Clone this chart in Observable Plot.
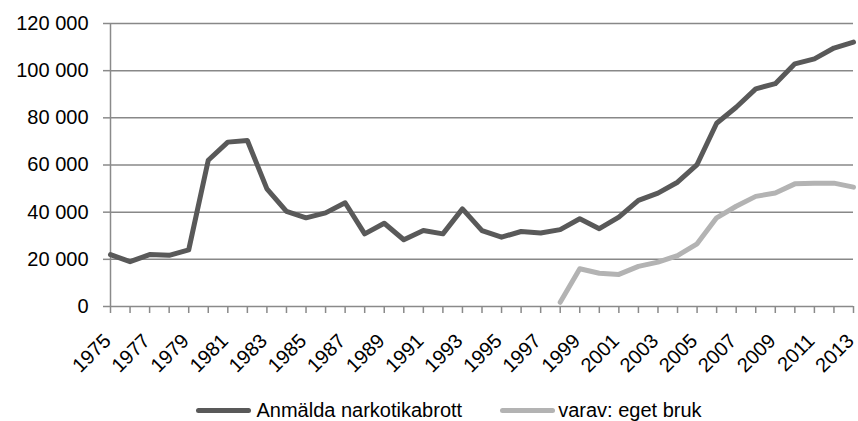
<!DOCTYPE html>
<html><head><meta charset="utf-8">
<script src="https://cdn.jsdelivr.net/npm/d3@7"></script>
<script src="https://cdn.jsdelivr.net/npm/@observablehq/plot@0.6"></script>
<style>
body{margin:0;background:#fff;font-family:"Liberation Sans",Arial,sans-serif;overflow:hidden;}
#chart svg{display:block;}
#legend{width:858px;height:31px;display:flex;justify-content:center;align-items:center;padding-left:40px;padding-top:9px;box-sizing:border-box;font-size:20px;color:#000;}
.item{display:flex;align-items:center;}
.sw{display:inline-block;width:55px;height:5px;border-radius:3px;}
</style></head><body>
<div id="chart"></div>
<div id="legend"></div>
<script>
const years = [1975,1976,1977,1978,1979,1980,1981,1982,1983,1984,1985,1986,1987,1988,1989,1990,1991,1992,1993,1994,1995,1996,1997,1998,1999,2000,2001,2002,2003,2004,2005,2006,2007,2008,2009,2010,2011,2012,2013];
const total = [22000,19000,22000,21700,24000,62000,69700,70400,49900,40300,37600,39700,44000,30800,35300,28300,32200,30800,41400,32200,29400,31800,31200,32600,37200,33000,37900,45000,48100,52700,60200,77700,84500,92300,94500,102900,105000,109600,112100];
const ownYears = [1998,1999,2000,2001,2002,2003,2004,2005,2006,2007,2008,2009,2010,2011,2012,2013];
const ownUse = [1800,16000,14100,13600,17000,18800,21600,26600,37600,42500,46700,48100,52000,52300,52300,50600];
const yTicks = [0,20000,40000,60000,80000,100000,120000];
const xLabelYears = [1975,1977,1979,1981,1983,1985,1987,1989,1991,1993,1995,1997,1999,2001,2003,2005,2007,2009,2011,2013];
const seriesNames = ["Anmälda narkotikabrott","varav: eget bruk"];
const seriesColors = ["#595959","#b3b3b3"];

const fmt = d3.formatLocale({decimal:",",thousands:"\u00a0",grouping:[3],currency:["",""]}).format(",");
const axisColor = "#8a8a8a";

const chart = Plot.plot({
  width: 858,
  height: 390,
  marginLeft: 110,
  marginRight: 5,
  marginTop: 23,
  marginBottom: 84,
  style: {fontFamily: '"Liberation Sans", Arial, sans-serif', fontSize: "20px", color: "#000", background: "#fff", overflow: "visible"},
  x: {type: "linear", domain: [1975, 2013]},
  y: {domain: [0, 120000]},
  marks: [
    Plot.gridY(yTicks.slice(1), {stroke: "#888", strokeOpacity: 1, strokeWidth: 1.5}),
    Plot.ruleY([0], {stroke: axisColor, strokeWidth: 1.5}),
    Plot.ruleX([1975], {stroke: axisColor, strokeWidth: 1.5}),
    Plot.axisY({ticks: yTicks, tickFormat: fmt, tickSize: 7, tickPadding: 15, stroke: axisColor, strokeWidth: 1.5, label: null, fill: "#000"}),
    Plot.axisX({ticks: years, tickFormat: () => "", tickSize: 7, stroke: axisColor, strokeWidth: 1.5, label: null}),
    Plot.axisX({ticks: xLabelYears, tickFormat: d => String(d), tickSize: 0, tickRotate: -45, tickPadding: 31, dx: -3, label: null, fill: "#000"}),
    Plot.line(total, {x: (d, i) => years[i], y: d => d, stroke: seriesColors[0], strokeWidth: 5, strokeLinejoin: "round", strokeLinecap: "round"}),
    Plot.line(ownUse, {x: (d, i) => ownYears[i], y: d => d, stroke: seriesColors[1], strokeWidth: 5, strokeLinejoin: "round", strokeLinecap: "round"})
  ]
});
document.getElementById("chart").appendChild(chart);

const legend = document.getElementById("legend");
seriesNames.forEach((name, i) => {
  const item = document.createElement("div");
  item.className = "item";
  if (i > 0) item.style.marginLeft = "38px";
  const sw = document.createElement("span");
  sw.className = "sw";
  sw.style.background = seriesColors[i];
  const t = document.createElement("span");
  t.textContent = name;
  t.style.marginLeft = i === 0 ? "5px" : "3px";
  item.appendChild(sw); item.appendChild(t);
  legend.appendChild(item);
});
</script>
</body></html>
